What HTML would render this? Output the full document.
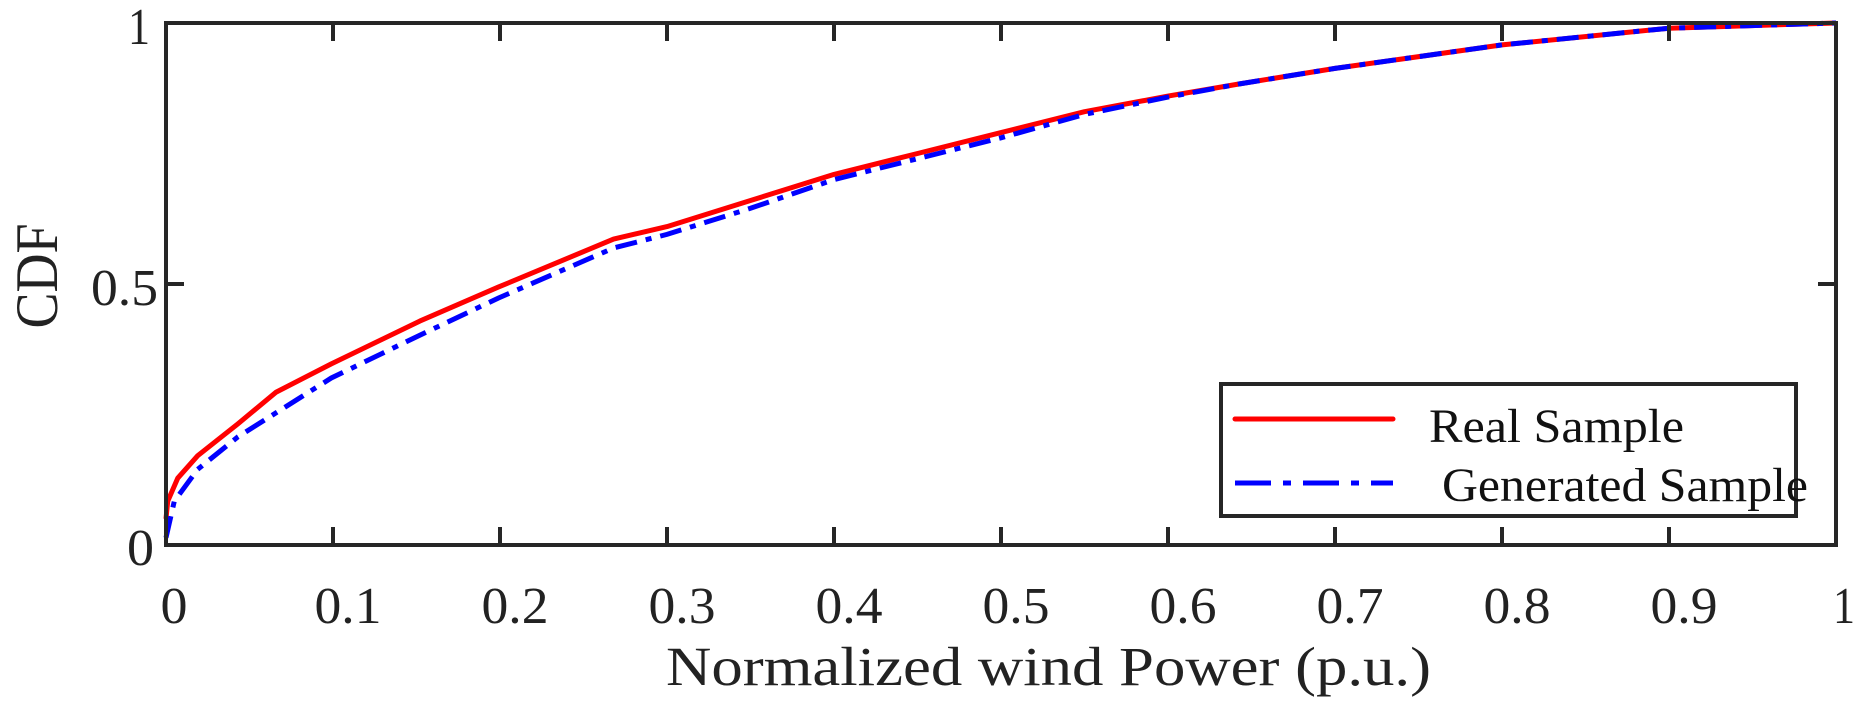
<!DOCTYPE html>
<html><head><meta charset="utf-8"><style>
html,body{margin:0;padding:0;background:#fff;}
svg{display:block;font-family:"Liberation Serif",serif;}
</style></head><body>
<svg id="chart" width="1857" height="706" viewBox="0 0 1857 706" xmlns="http://www.w3.org/2000/svg">
<g id="plot"></g>
</svg>
<script>
const realX = [0.0, 0.001, 0.007, 0.019, 0.043, 0.066, 0.099, 0.152, 0.199, 0.268, 0.3, 0.35, 0.4, 0.45, 0.5, 0.55, 0.6, 0.642, 0.7, 0.8, 0.9, 1.0];
const realY = [0.05, 0.084, 0.128, 0.171, 0.232, 0.293, 0.347, 0.429, 0.494, 0.586, 0.61, 0.66, 0.71, 0.75, 0.79, 0.83, 0.86, 0.883, 0.913, 0.958, 0.99, 1.0];
const genX = [0.0, 0.005, 0.019, 0.043, 0.099, 0.152, 0.199, 0.268, 0.3, 0.35, 0.4, 0.45, 0.5, 0.55, 0.6, 0.642, 0.7, 0.8, 0.9, 1.0];
const genY = [0.014, 0.084, 0.145, 0.207, 0.320, 0.402, 0.473, 0.569, 0.595, 0.645, 0.70, 0.74, 0.78, 0.825, 0.858, 0.883, 0.913, 0.958, 0.99, 1.0];
const xTicks = [0, 0.1, 0.2, 0.3, 0.4, 0.5, 0.6, 0.7, 0.8, 0.9, 1];
const xTickLabels = ["0", "0.1", "0.2", "0.3", "0.4", "0.5", "0.6", "0.7", "0.8", "0.9", "1"];
const yTicks = [0, 0.5, 1];
const yTickLabels = ["0", "0.5", "1"];

const L = 166, R = 1836, T = 23, B = 545;
const NS = "http://www.w3.org/2000/svg";
const xs = v => L + v * (R - L);
const ys = v => B - v * (B - T);
const g = document.getElementById('plot');
function mk(tag, attrs, parent) {
  const e = document.createElementNS(NS, tag);
  for (const k in attrs) e.setAttribute(k, attrs[k]);
  (parent || g).appendChild(e);
  return e;
}
const AX = "#262626";
function lenFor(s) { return s.length === 1 ? (s === "1" ? 22 : 27) : 67; }

function pathD(X, Y) { return X.map((x, i) => (i ? "L" : "M") + xs(x).toFixed(1) + "," + ys(Y[i]).toFixed(1)).join(" "); }
const red = mk('path', {d: pathD(realX, realY), fill: "none", stroke: "#ff0000", "stroke-width": 5, "stroke-linejoin": "round"});


const blue = mk('path', {d: pathD(genX, genY), fill: "none", stroke: "#0000ff", "stroke-width": 5, "stroke-dasharray": "22 9 6 9"});



const frame = mk('rect', {x: L, y: T, width: R - L, height: B - T, fill: "none", stroke: AX, "stroke-width": 4});



xTicks.forEach((v, i) => {
  const x = xs(v);
  const t1 = mk('line', {x1: x, y1: B, x2: x, y2: B - 18, stroke: AX, "stroke-width": 4});
  
  
  const t2 = mk('line', {x1: x, y1: T, x2: x, y2: T + 18, stroke: AX, "stroke-width": 4});
  
  
  const off = (v === 0 || v === 1) ? 8 : 15;
  const s = xTickLabels[i];
  const tx = mk('text', {x: x + off, y: 623, "font-size": 52, "text-anchor": "middle", fill: "#222", textLength: lenFor(s), lengthAdjust: "spacingAndGlyphs"});
  tx.textContent = s;
  
  
});
const yBase = [565, 305, 44];
const yRight = [154, 158, 150];
yTicks.forEach((v, i) => {
  const y = ys(v);
  const t1 = mk('line', {x1: L, y1: y, x2: L + 18, y2: y, stroke: AX, "stroke-width": 4});
  
  
  const t2 = mk('line', {x1: R, y1: y, x2: R - 18, y2: y, stroke: AX, "stroke-width": 4});
  
  
  const s = yTickLabels[i];
  const tx = mk('text', {x: yRight[i], y: y + (yBase[i] - ys(v)), "font-size": 52, "text-anchor": "end", fill: "#222", textLength: lenFor(s), lengthAdjust: "spacingAndGlyphs"});
  tx.textContent = s;
  
  
});
</script>
<svg style="position:absolute;left:0;top:0" width="1857" height="706" viewBox="0 0 1857 706" xmlns="http://www.w3.org/2000/svg" font-family="Liberation Serif, serif">
<text x="1431" y="685" font-size="55" text-anchor="end" textLength="765" lengthAdjust="spacingAndGlyphs" fill="#222">Normalized wind Power (p.u.)</text>
<text transform="translate(57,276) rotate(-90)" font-size="60" text-anchor="middle" textLength="105" lengthAdjust="spacingAndGlyphs" fill="#222">CDF</text>
<g>
<rect x="1221" y="384" width="575" height="132" fill="#fff" stroke="#262626" stroke-width="4"/>
<line x1="1235" y1="419" x2="1393" y2="419" stroke="#ff0000" stroke-width="5" stroke-linecap="round"/>
<text x="1429" y="442" font-size="48" textLength="255" lengthAdjust="spacingAndGlyphs" fill="#111">Real Sample</text>
<line x1="1235" y1="483" x2="1393" y2="483" stroke="#0000ff" stroke-width="5" stroke-dasharray="36 12 8 12"/>
<text x="1442" y="501" font-size="48" textLength="366" lengthAdjust="spacingAndGlyphs" fill="#111">Generated Sample</text>
</g>
</svg>
</body></html>
